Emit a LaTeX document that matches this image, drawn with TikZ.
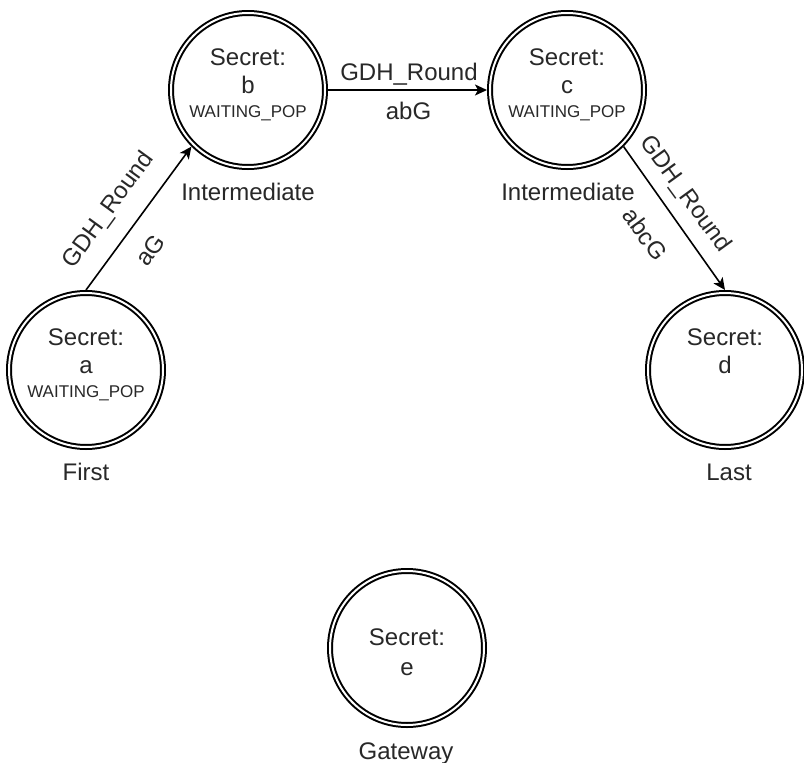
\documentclass[tikz,border=0pt]{standalone}
\usepackage{fontspec}
\setmainfont{Liberation Sans}
\usetikzlibrary{arrows.meta,calc}
\definecolor{txtc}{RGB}{40,40,40}
\begin{document}
\begin{tikzpicture}[x=1pt,y=-1pt,
  state/.style={circle,draw=black,line width=2pt,double=white,double distance=2pt,minimum size=154pt,inner sep=0pt,outer sep=3pt},
  bigtxt/.style={font=\fontsize{24}{28}\selectfont,text=txtc,inner sep=0pt,anchor=base},
  smalltxt/.style={font=\fontsize{17}{20}\selectfont,text=txtc,inner sep=0pt,anchor=base},
  elabel/.style={font=\fontsize{24}{28}\selectfont,text=txtc,inner sep=0pt,text height=17pt,text depth=0pt},
  edgeline/.style={line width=1.6pt,draw=black,-{Stealth[length=12pt,width=11pt,inset=3pt]}}]
\useasboundingbox (0,0) rectangle (804,763);
\fill[white] (0,0) rectangle (804,763);
% states
\node[state] (a) at (86,370) {};
\node[state] (b) at (248,90) {};
\node[state] (c) at (567,90) {};
\node[state] (d) at (725,370) {};
\node[state] (e) at (407,648) {};
% texts inside
\node[bigtxt] (a1) at ($(a)+(0,-25)$) {Secret:};
\node[bigtxt] (a2) at ($(a)+(0,3)$) {a};
\node[smalltxt] (a3) at ($(a)+(0,27)$) {WAITING\_POP};
\node[bigtxt] (b1) at ($(b)+(0,-25)$) {Secret:};
\node[bigtxt] (b2) at ($(b)+(0,3)$) {b};
\node[smalltxt] (b3) at ($(b)+(0,27)$) {WAITING\_POP};
\node[bigtxt] (c1) at ($(c)+(0,-25)$) {Secret:};
\node[bigtxt] (c2) at ($(c)+(0,3)$) {c};
\node[smalltxt] (c3) at ($(c)+(0,27)$) {WAITING\_POP};
\node[bigtxt] (d1) at ($(d)+(0,-25)$) {Secret:};
\node[bigtxt] (d2) at ($(d)+(0,3)$) {d};
\node[bigtxt] (e1) at ($(e)+(0,-3)$) {Secret:};
\node[bigtxt] (e2) at ($(e)+(0,27)$) {e};
% labels below
\node[bigtxt] (la) at (86,480) {First};
\node[bigtxt] (lb) at (248,200) {Intermediate};
\node[bigtxt] (lc) at (568,200) {Intermediate};
\node[bigtxt] (ld) at (729,480) {Last};
\node[bigtxt] (le) at (406,759) {Gateway};
% edges
\draw[edgeline] (a.north) -- (b.225);
\draw[edgeline] (b.east) -- (c.west);
\draw[edgeline] (c.315) -- (d.north);
% edge labels
\node[elabel,rotate=54] (ab1) at (107,209) {GDH\_Round};
\node[elabel,rotate=54] (ab2) at (150,250) {aG};
\node[elabel] (bc1) at (409,71.5) {GDH\_Round};
\node[elabel] (bc2) at (408.5,111) {abG};
\node[elabel,rotate=-54] (cd1) at (687,193) {GDH\_Round};
\node[elabel,rotate=-54] (cd2) at (645,234) {abcG};
\end{tikzpicture}
\end{document}
